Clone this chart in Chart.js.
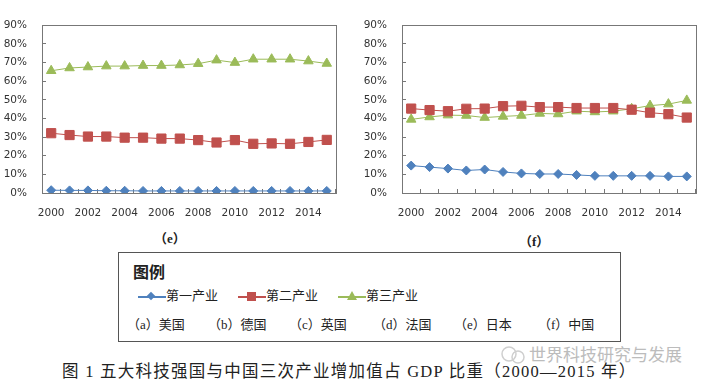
<!DOCTYPE html>
<html lang="zh">
<head>
  <meta charset="UTF-8">
  <title>三次产业增加值占 GDP 比重</title>
  <script src="https://cdn.jsdelivr.net/npm/chart.js"></script>
  <style>
    body { margin: 0; background: #fff; width: 705px; height: 383px; position: relative; overflow: hidden;
           font-family: "Liberation Serif", "Noto Sans CJK SC", serif; color: #222; }
    .chartBox { position: absolute; top: 0; width: 345px; height: 225px; }
    .sub { position: absolute; font-weight: bold; font-size: 13px; }
    #legend { position: absolute; left: 118px; top: 252px; width: 501px; height: 88px; border: 1px solid #555; }
    #legend .title { position: absolute; left: 14px; top: 6px; font-size: 16px; font-weight: bold;
                     font-family: "Noto Sans CJK SC", sans-serif; }
    #legend .item { position: absolute; top: 34px; font-size: 13px; height: 18px; line-height: 18px; }
    .sym { display: inline-block; position: relative; width: 28px; height: 18px; vertical-align: top; }
    .sym .ln { position: absolute; left: 0; right: 0; top: 9px; height: 1.5px; }
    .sym .mk { position: absolute; }
    #legend .cty { position: absolute; top: 61px; font-size: 13px; }
    #caption { position: absolute; left: 62px; top: 358px; font-size: 16.5px; letter-spacing: 1.25px; white-space: nowrap; }
    #mark { position: absolute; left: 499px; top: 341px; font-size: 17px; color: #bcbcbc; white-space: nowrap;
            font-family: "Noto Sans CJK SC", sans-serif; }
  </style>
</head>
<body>
  <div class="chartBox" style="left:0"><canvas id="chartE" width="345" height="225"></canvas></div>
  <div class="chartBox" style="left:360px"><canvas id="chartF" width="345" height="225"></canvas></div>

  <div class="sub" style="left:154px; top:228px">（e）</div>
  <div class="sub" style="left:519px; top:231px">（f）</div>

  <div id="legend">
    <div class="title">图例</div>
    <div class="item" style="left:19px">
      <span class="sym"><span class="ln" style="background:#4F81BD"></span>
        <span class="mk" style="left:10px;top:6px;width:6px;height:6px;background:#4F81BD;transform:rotate(45deg)"></span></span>第一产业
    </div>
    <div class="item" style="left:119px">
      <span class="sym"><span class="ln" style="background:#C0504D"></span>
        <span class="mk" style="left:9px;top:5px;width:9px;height:9px;background:#C0504D"></span></span>第二产业
    </div>
    <div class="item" style="left:219px">
      <span class="sym"><span class="ln" style="background:#9BBB59"></span>
        <span class="mk" style="left:9px;top:4px;width:0;height:0;border-left:5px solid transparent;border-right:5px solid transparent;border-bottom:9px solid #9BBB59"></span></span>第三产业
    </div>
    <div class="cty" style="left:8px">（a）美国</div>
    <div class="cty" style="left:89px">（b）德国</div>
    <div class="cty" style="left:170px">（c）英国</div>
    <div class="cty" style="left:254px">（d）法国</div>
    <div class="cty" style="left:335px">（e）日本</div>
    <div class="cty" style="left:419px">（f）中国</div>
  </div>

  <div id="mark">
    <svg width="30" height="18" style="vertical-align:-3px">
      <circle cx="10" cy="8" r="7" fill="none" stroke="#cfcfcf" stroke-width="1.5"/>
      <circle cx="19" cy="11" r="6" fill="none" stroke="#cfcfcf" stroke-width="1.5"/>
    </svg>世界科技研究与发展
  </div>
  <div id="caption">图 1 五大科技强国与中国三次产业增加值占 GDP 比重（2000—2015 年）</div>

  <script>
    // years and tick labels
    const years = ['2000','2001','2002','2003','2004','2005','2006','2007',
                   '2008','2009','2010','2011','2012','2013','2014','2015'];
    const yTicks = [0, 10, 20, 30, 40, 50, 60, 70, 80, 90];

    // (e) Japan, share of GDP in %
    const japanPrimary   = [1.5, 1.4, 1.4, 1.2, 1.2, 1.1, 1.1, 1.1, 1.1, 1.1, 1.1, 1.1, 1.1, 1.1, 1.1, 1.1];
    const japanSecondary = [32.1, 31.1, 30.3, 30.3, 29.7, 29.7, 29.2, 29.2, 28.4, 27.1, 28.4, 26.4, 26.6, 26.4, 27.4, 28.5];
    const japanTertiary  = [65.6, 67.1, 67.6, 68.1, 68.1, 68.4, 68.4, 68.7, 69.4, 71.3, 70.0, 71.8, 71.8, 71.8, 70.8, 69.5];

    // (f) China, share of GDP in %
    const chinaPrimary   = [14.7, 13.9, 13.1, 12.1, 12.6, 11.3, 10.5, 10.2, 10.2, 9.7, 9.2, 9.2, 9.2, 9.2, 8.9, 8.9];
    const chinaSecondary = [45.3, 44.5, 43.9, 45.2, 45.3, 46.6, 46.8, 46.1, 46.1, 45.6, 45.6, 45.6, 44.7, 43.1, 42.3, 40.5];
    const chinaTertiary  = [39.5, 40.8, 41.8, 41.6, 40.5, 41.1, 41.6, 42.7, 42.4, 43.9, 43.5, 43.9, 45.2, 46.9, 47.7, 49.7];

    const seriesNames = ['第一产业', '第二产业', '第三产业'];
    const BLUE = '#4F81BD', RED = '#C0504D', GREEN = '#9BBB59';
    const axisFont = { family: '"DejaVu Sans", Verdana, sans-serif', size: 10.5 };

    // box round the plot area
    const frame = {
      id: 'frame',
      afterDraw(chart) {
        const a = chart.chartArea, c = chart.ctx;
        c.save();
        c.strokeStyle = '#777';
        c.lineWidth = 1;
        c.strokeRect(Math.round(a.left) + 0.5, Math.round(a.top) + 0.5,
                     Math.round(a.right - a.left), Math.round(a.bottom - a.top));
        c.restore();
      }
    };

    function makeChart(id, primary, secondary, tertiary, padRight) {
      const ds = (label, data, color, style, radius) => ({
        label, data,
        borderColor: color, backgroundColor: color,
        borderWidth: 1,
        pointStyle: style, pointRadius: radius, pointHoverRadius: radius,
        pointBorderWidth: 1, pointBorderColor: color, pointBackgroundColor: color
      });
      return new Chart(document.getElementById(id), {
        type: 'line',
        data: {
          labels: years,
          datasets: [
            ds(seriesNames[0], primary, BLUE, 'rectRot', 4.5),
            ds(seriesNames[1], secondary, RED, 'rect', 6.5),
            ds(seriesNames[2], tertiary, GREEN, 'triangle', 5.5)
          ]
        },
        options: {
          responsive: false,
          animation: false,
          layout: { padding: { top: 8, right: padRight, left: 0, bottom: 0 } },
          plugins: { legend: { display: false }, tooltip: { enabled: false } },
          scales: {
            x: {
              offset: true,
              grid: { offset: true, drawOnChartArea: false, tickLength: -4, color: '#777' },
              border: { display: false },
              ticks: {
                autoSkip: false, maxRotation: 0, padding: 18, color: '#333', font: axisFont,
                callback: (v, i) => (i % 2 === 0 ? years[i] : '')
              },
              afterFit: s => { s.height = 32; }
            },
            y: {
              min: 0, max: 90,
              afterBuildTicks: s => { s.ticks = yTicks.map(v => ({ value: v })); },
              grid: { drawOnChartArea: false, tickLength: -4, color: '#777' },
              border: { display: false },
              ticks: { autoSkip: false, padding: 19, color: '#333', font: axisFont, callback: v => v + '%' },
              afterFit: s => { s.width = 42; }
            }
          }
        },
        plugins: [frame]
      });
    }

    makeChart('chartE', japanPrimary, japanSecondary, japanTertiary, 5);
    makeChart('chartF', chinaPrimary, chinaSecondary, chinaTertiary, 3);
  </script>
</body>
</html>
